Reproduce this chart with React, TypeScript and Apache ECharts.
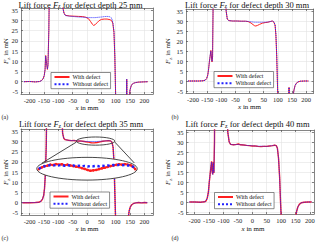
import React, { useEffect, useRef } from 'react';
import * as echarts from 'echarts';

// ---------- data ----------
const xTicks = [-200, -150, -100, -50, 0, 50, 100, 150, 200];
const yTicks = [-5, 0, 5, 10, 15, 20, 25, 30, 35];
const depths = [25, 30, 35, 40];
const panelNames = ['(a)', '(b)', '(c)', '(d)'];
const seriesNames = ['With defect', 'Without defect'];

const xA = [-220,-200,-180,-165,-158,-153,-149,-146,-144,-141,-138,-136,-133,-130,-128,-90,-87,-84,-80,-75,-60,-45,-30,-15,-5,5,12,18,23,28,35,42,50,60,70,80,86,90,94,97,100,103,136,138.5,141,144,147,150,154,158,163,170,180,195,212];
const withA = [0,0.1,-0.1,0.1,0.6,1.5,3,6,12.8,9,6,8,25,60,90,90,50,36,33.5,32.4,32.1,32,31.9,31.8,31.5,30.8,29.5,28.2,27.5,27.8,28.8,29.8,30.4,30.6,30.6,30.3,29.8,28.5,24,12,-8,-40,-40,1.2,-40,-40,-8,-4,-2,-1.1,-0.7,-0.4,-0.2,-0.1,0];
const withoutA = [0,0.1,-0.1,0.1,0.6,1.5,3,6,12.6,9.2,6.2,8,25,60,90,90,50,36,33.3,32.3,32,31.8,31.6,31.5,31.4,31.3,31.3,31.3,31.3,31.3,31.4,31.5,31.6,31.8,31.9,31.7,31,29,24.5,12.5,-8,-40,-40,1.2,-40,-40,-8,-4,-2,-1.1,-0.7,-0.4,-0.2,-0.1,0];

const xB = [-218,-200,-180,-165,-157,-152,-148,-145,-142,-139,-137,-135,-133,-131,-129,-127,-90,-86,-83,-79,-74,-60,-45,-30,-15,-5,5,12,18,22,28,35,45,55,65,75,80,85,90,93,96,99,102,137,139.5,142,150,153,157,161,166,172,180,195,208];
const withB = [0,0,0,0.1,0.4,1.2,3,6,10,13,15.3,12,9.5,12,40,90,90,50,35,31,30.2,30,30,29.9,29.9,29.7,29,28.2,27.6,27.5,27.8,28.3,28.9,29.2,29.4,29.8,30,29.6,28,23,12,-4,-40,-40,-3.2,-40,-40,-8,-4.5,-2.2,-1,-0.4,-0.1,0,0];
const withoutB = [0,0,0,0.1,0.4,1.2,3,6,10,13.4,15,12.3,9.8,12,40,90,90,50,35,31,30.2,30,30,29.9,29.9,29.8,29.6,29.5,29.4,29.4,29.4,29.4,29.4,29.4,29.5,29.8,30,29.7,28.2,23.5,12.5,-4,-40,-40,-3.2,-40,-40,-8,-4.5,-2.2,-1,-0.4,-0.1,0,0];

const xC = [-225,-200,-180,-168,-160,-155,-151,-148,-145,-142,-140,-138,-92,-88,-85,-81,-76,-65,-55,-45,-35,-25,-15,-5,5,15,25,35,45,55,65,75,82,87,91,94,97,100,103,140,143,147,151,156,162,170,180,190,200,210];
const withC = [0,0,0.1,0.2,0.8,1.8,3.5,7,14,28,50,90,90,45,34,31.5,30.8,30.5,30.3,30.4,30.1,30.2,30,29.8,29.6,29.3,29.2,29.4,29.7,30,30.2,30.3,30.2,29.5,27,20,5,-10,-40,-40,-8,-4,-2,-1,-0.4,-0.1,0.1,-0.1,0.1,0];
const withoutC = [0,0,0.1,0.2,0.8,1.8,3.5,7,14,28,50,90,90,45,34,31.5,30.8,30.5,30.3,30.4,30.1,30.2,30,29.95,29.9,29.9,29.9,29.9,30,30.1,30.2,30.3,30.2,29.5,27,20,5,-10,-40,-40,-8,-4,-2,-1,-0.4,-0.1,0.1,-0.1,0.1,0];

const xD = [-218,-200,-180,-165,-160,-156,-152,-149,-146,-143,-141,-139,-137,-135,-133,-131,-129,-92,-88,-85,-80,-75,-65,-55,-48,-40,-30,-20,-10,0,10,20,30,40,50,60,70,78,83,87,91,95,98,101,104,147,150,154,158,163,170,180,195,206];
const withD = [0,0,-0.1,0.1,0.6,2,5,10,14,18,20.3,15,13.8,20,14.5,30,90,90,50,35,30,28.8,28.6,28.8,29,28.6,28.5,28.3,28.2,28,28,27.8,27.7,27.8,27.8,28,28.2,28.4,28.2,27,22,12,0,-10,-40,-40,-8,-4.5,-2.5,-1.2,-0.4,-0.1,0,0];
const withoutD = [0,0,-0.1,0.1,0.6,2,5,10,14,18,20,15.3,13.8,19.6,14.8,30,90,90,50,35,30,28.8,28.6,28.7,28.8,28.6,28.5,28.3,28.2,28.1,28,27.9,27.9,27.9,27.8,28,28.2,28.4,28.2,27,22,12,0,-10,-40,-40,-8,-4.5,-2.5,-1.2,-0.4,-0.1,0,0];

// magnified inset of panel (c), drawn inside the large ellipse
const insetX = [-168,-158,-148,-138,-128,-118,-108,-98,-88,-78,-68,-58,-48,-38,-28,-18,-8,2,12,22,32,42,52,62,72,82,92,102,112,122,132,142,152,160,168];
const insetWith = [16.4,17.2,17.9,18.1,18.6,18.4,18.9,18.6,18.8,18.3,18.6,18.2,17.9,17.6,17.4,16.9,16.5,16.0,15.6,15.8,16.0,16.4,16.8,17.1,17.5,17.9,18.2,18.5,18.8,18.6,18.9,18.6,18.3,17.6,16.4];
const insetWithout = [16.6,17.3,17.8,18.0,18.3,18.1,18.4,18.2,18.5,18.0,18.3,18.1,18.2,17.9,18.1,17.8,18.0,17.7,17.9,17.8,18.0,17.8,18.1,18.0,18.2,18.1,18.4,18.2,18.5,18.3,18.4,18.2,18.1,17.6,16.6];

// ---------- layout ----------
const FONT = "'Liberation Serif', 'Times New Roman', 'DejaVu Serif', serif";
const RED = '#ff1f1f';
const BLUE = '#2020ff';
const AXIS_COLOR = '#505050';
const GRID_COLOR = '#e3e3e3';

const GRIDS = [
  { left: 21, top: 8, width: 132, height: 86 },
  { left: 186, top: 9, width: 127.5, height: 84 },
  { left: 21, top: 129, width: 132, height: 86 },
  { left: 186.5, top: 130, width: 127.5, height: 84 },
];
const X_RANGES = [[-230, 230], [-225, 226], [-230, 230], [-228, 214]];
const Y_RANGE = [-6, 36];
const LEGEND_POS = [[51, 72.5], [214, 71.5], [50, 192], [214.5, 192.5]];
const TITLE_POS = [[80.5, 0.2], [247, 0.2], [81, 119.8], [247.5, 119.8]];
const XLABEL_POS = [[87, 108], [249.5, 107.5], [87, 229], [253, 229]];
const YLABEL_POS = [[6.5, 51], [168, 51], [6.5, 172], [168, 172]];
const PANEL_POS = [[1.5, 117], [171.5, 116.5], [1.5, 237.5], [171.5, 237.5]];

const rich = (size: number) => ({
  n: { fontFamily: FONT, fontSize: size, verticalAlign: 'top', lineHeight: size + 1, fill: '#111', color: '#111' },
  i: { fontFamily: FONT, fontSize: size, fontStyle: 'italic', verticalAlign: 'top', lineHeight: size + 1, fill: '#111', color: '#111' },
  s: { fontFamily: FONT, fontSize: size * 0.68, verticalAlign: 'top', lineHeight: size * 0.68, padding: [size * 0.55, 0, 0, 0], fill: '#111', color: '#111' },
});
const titleRich = {
  n: { fontFamily: FONT, fontSize: 8.5, verticalAlign: 'top', lineHeight: 8.5, fill: '#111', color: '#111' },
  i: { fontFamily: FONT, fontSize: 8.5, fontStyle: 'italic', verticalAlign: 'top', lineHeight: 8.5, fill: '#111', color: '#111' },
  s: { fontFamily: FONT, fontSize: 5.8, verticalAlign: 'top', lineHeight: 5.8, padding: [3.2, 0, 0, 0], fill: '#111', color: '#111' },
};

function buildOption() {
  const panels = [
    { x: xA, w: withA, wo: withoutA },
    { x: xB, w: withB, wo: withoutB },
    { x: xC, w: withC, wo: withoutC },
    { x: xD, w: withD, wo: withoutD },
  ];
  const lineAxis = { show: true, onZero: false, lineStyle: { color: AXIS_COLOR, width: 0.7 } };
  const tick = { show: true, inside: true, length: 2, lineStyle: { color: AXIS_COLOR, width: 0.7 } };
  const label = { fontSize: 6.5, fontFamily: FONT, color: '#222' };

  const xAxis: any[] = [];
  const yAxis: any[] = [];
  GRIDS.forEach((_, i) => {
    xAxis.push({
      type: 'value', gridIndex: i, min: X_RANGES[i][0], max: X_RANGES[i][1], position: 'bottom',
      axisLine: lineAxis, axisTick: { ...tick, customValues: xTicks },
      axisLabel: { ...label, margin: 3, customValues: xTicks },
      splitLine: { show: true, lineStyle: { color: GRID_COLOR, width: 0.6 } },
    });
    yAxis.push({
      type: 'value', gridIndex: i, min: Y_RANGE[0], max: Y_RANGE[1], position: 'left',
      axisLine: lineAxis, axisTick: { ...tick, customValues: yTicks },
      axisLabel: { ...label, margin: 3, customValues: yTicks },
      splitLine: { show: true, lineStyle: { color: GRID_COLOR, width: 0.6 } },
    });
  });
  GRIDS.forEach((_, i) => {
    xAxis.push({
      type: 'value', gridIndex: i, min: X_RANGES[i][0], max: X_RANGES[i][1], position: 'top',
      axisLine: lineAxis, axisTick: { ...tick, customValues: xTicks },
      axisLabel: { show: false }, splitLine: { show: false },
    });
    yAxis.push({
      type: 'value', gridIndex: i, min: Y_RANGE[0], max: Y_RANGE[1], position: 'right',
      axisLine: lineAxis, axisTick: { ...tick, customValues: yTicks },
      axisLabel: { show: false }, splitLine: { show: false },
    });
  });

  const series: any[] = [];
  panels.forEach((p, i) => {
    series.push({
      type: 'line', name: seriesNames[0], xAxisIndex: i, yAxisIndex: i, symbol: 'none',
      data: p.x.map((x, k) => [x, p.w[k]]),
      lineStyle: { color: RED, width: i >= 2 ? 1.4 : 1.0 }, itemStyle: { color: RED }, z: 2,
    });
    series.push({
      type: 'line', name: seriesNames[1], xAxisIndex: i, yAxisIndex: i, symbol: 'none',
      data: p.x.map((x, k) => [x, p.wo[k]]),
      lineStyle: { color: BLUE, width: 1.0, type: 'dotted' }, itemStyle: { color: BLUE }, z: 3,
    });
  });
  series.push({
    type: 'line', name: 'inset-with', xAxisIndex: 2, yAxisIndex: 2, symbol: 'circle', symbolSize: 2.6,
    showSymbol: true, data: insetX.map((x, k) => [x, insetWith[k]]),
    lineStyle: { color: RED, width: 2 }, itemStyle: { color: RED }, z: 12,
  });
  series.push({
    type: 'line', name: 'inset-without', xAxisIndex: 2, yAxisIndex: 2, symbol: 'none',
    data: insetX.map((x, k) => [x, insetWithout[k]]),
    lineStyle: { color: BLUE, width: 2.4, type: [2.4, 2.6] }, itemStyle: { color: BLUE }, z: 13,
  });

  const legend = LEGEND_POS.map((pos) => ({
    data: seriesNames, orient: 'vertical', left: pos[0], top: pos[1], selectedMode: false,
    backgroundColor: '#fff', borderColor: '#5a5a5a', borderWidth: 0.7, borderRadius: 0,
    padding: [1.5, 2.5, 1.5, 2.5], itemGap: 1.2, itemWidth: 15, itemHeight: 6,
    itemStyle: { opacity: 0, borderWidth: 0 },
    textStyle: { fontSize: 6, fontFamily: FONT, color: '#111', padding: [0, 0, 0, -2] }, z: 20,
  }));

  return {
    animation: false,
    backgroundColor: '#fff',
    grid: GRIDS.map((g) => ({ ...g, containLabel: false, show: false })),
    xAxis, yAxis, series, legend,
  };
}

function buildGraphic(chart: any) {
  const g: any[] = [];
  TITLE_POS.forEach((p, i) => g.push({
    type: 'text', x: p[0], y: p[1], z: 30,
    style: { text: `{n|Lift force }{i|F}{s|z}{n| for defect depth ${depths[i]} mm}`, rich: titleRich,
      align: 'center', verticalAlign: 'top', textAlign: 'center', textVerticalAlign: 'top' },
  }));
  XLABEL_POS.forEach((p) => g.push({
    type: 'text', x: p[0], y: p[1], z: 30,
    style: { text: '{i|x}{n| in mm}', rich: rich(7), align: 'center', verticalAlign: 'middle', textAlign: 'center', textVerticalAlign: 'middle' },
  }));
  YLABEL_POS.forEach((p) => g.push({
    type: 'text', x: p[0], y: p[1], rotation: Math.PI / 2, z: 30,
    style: { text: '{i|F}{s|z}{n| in mN}', rich: rich(7), align: 'center', verticalAlign: 'middle', textAlign: 'center', textVerticalAlign: 'middle' },
  }));
  PANEL_POS.forEach((p, i) => g.push({
    type: 'text', x: p[0], y: p[1], z: 30,
    style: { text: panelNames[i], fontFamily: FONT, fontSize: 6, fill: '#111', align: 'left', verticalAlign: 'middle', textAlign: 'left', textVerticalAlign: 'middle' },
  }));

  // magnifier in panel (c): positions given in data units of that panel
  const toPx = (pt: number[]) => chart.convertToPixel({ gridIndex: 2 }, pt) as number[];
  const big = { cx: 0, cy: 16.6, rx: 175, ry: 5.55 };
  const small = { cx: 30, cy: 30.1, rx: 67, ry: 2.0 };
  const ell = (e: any, fill: string, z: number) => {
    const c = toPx([e.cx, e.cy]);
    const rx = toPx([e.cx + e.rx, e.cy])[0] - c[0];
    const ry = c[1] - toPx([e.cx, e.cy + e.ry])[1];
    return { type: 'ellipse', z, shape: { cx: c[0], cy: c[1], rx, ry }, style: { fill, stroke: '#333', lineWidth: 0.9 } };
  };
  g.push(ell(big, '#fff', 10));
  g.push(ell(small, 'none', 11));
  const l1a = toPx([-37, 29.6]), l1b = toPx([-157, 19.3]);
  const l2a = toPx([97, 29.6]), l2b = toPx([165, 19.4]);
  g.push({ type: 'line', z: 11, shape: { x1: l1a[0], y1: l1a[1], x2: l1b[0], y2: l1b[1] }, style: { stroke: '#333', lineWidth: 0.9 } });
  g.push({ type: 'line', z: 11, shape: { x1: l2a[0], y1: l2a[1], x2: l2b[0], y2: l2b[1] }, style: { stroke: '#333', lineWidth: 0.9 } });
  return g;
}

export default function App() {
  const ref = useRef<HTMLDivElement>(null);
  useEffect(() => {
    if (!ref.current) return;
    const chart = echarts.init(ref.current, undefined, { renderer: 'svg' });
    chart.setOption(buildOption() as any);
    chart.setOption({ graphic: buildGraphic(chart) } as any);
    return () => chart.dispose();
  }, []);
  return <div ref={ref} style={{ position: 'fixed', left: 0, top: 0, width: 320, height: 242 }} />;
}
